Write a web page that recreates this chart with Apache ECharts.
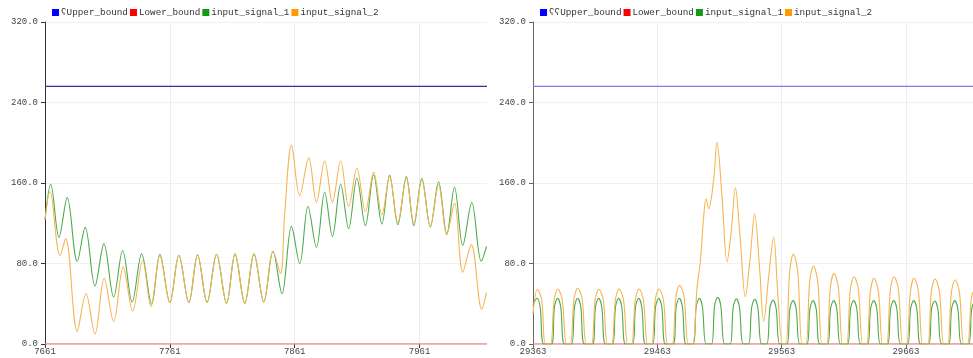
<!DOCTYPE html>
<html>
<head>
<meta charset="utf-8">
<script src="https://cdn.jsdelivr.net/npm/echarts@6/dist/echarts.min.js"></script>
<style>
html, body { margin: 0; padding: 0; background: #fff; }
#wrap { width: 973px; height: 358px; display: flex; }
#chart_left { width: 487px; height: 358px; }
#chart_right { width: 486px; height: 358px; }
</style>
</head>
<body>
<div id="wrap">
  <div id="chart_left"></div>
  <div id="chart_right"></div>
</div>
<script>
// axis settings
const yMax = 320
const yStep = 80
const xStep = 100
const xSpan = 354
const leftStart = 7661
const rightStart = 29363
const upperBound = 256
const lowerBound = 0

const leftNames = ['ʕUpper_bound', 'Lower_bound', 'input_signal_1', 'input_signal_2']
const rightNames = ['ʕʕUpper_bound', 'Lower_bound', 'input_signal_1', 'input_signal_2']

// [sample offset from start, value]
const leftSignal1 = [
  [0, 123.5], [4.6, 158.8], [11.2, 106], [17.8, 145.5], [25.8, 82.3], [32.2, 115.9],
  [40, 57.6], [47.2, 99.5], [55, 46.7], [62.2, 92.9], [69.8, 41.8], [77.4, 89.6],
  [85.4, 39.5], [92, 89.2], [100, 41.2], [107.2, 88.2], [115.2, 41.2], [122.2, 88.6],
  [129.8, 41.2], [137.4, 89.2], [145.4, 40.5], [152.2, 89.6], [160, 40.5], [167.4, 89.6],
  [175.2, 41.8], [182.6, 92.2], [189.8, 50], [197.4, 116.9], [204, 80], [210.6, 136.6],
  [217.4, 96.1], [224, 150.8], [230.2, 107], [236.8, 158.8], [243.2, 114.6], [249.8, 164.7],
  [256.6, 117.6], [263.2, 168], [269.8, 119.2], [276, 168], [282.6, 118.6], [289.4, 166.3],
  [295.4, 117.6], [301.8, 164.7], [308.6, 116.3], [315.2, 161.3], [321.8, 109.4], [328, 155.8],
  [334.6, 98.1], [341.8, 140.6], [349.4, 82.3], [353.6, 97]
]
const leftSignal2 = [
  [0, 123.5], [4, 151.5], [12, 88], [16.6, 104.7], [25.8, 12.5], [32.8, 50],
  [40, 9.9], [47.4, 65.2], [55, 22.4], [62.6, 76.4], [70.2, 32.9], [78.2, 83],
  [84.8, 37.2], [92, 87.6], [100, 41.2], [107.2, 88.2], [115.2, 41.2], [122.2, 88.6],
  [129.8, 41.2], [137.4, 89.2], [145.4, 40.5], [152.2, 89.6], [160, 40.5], [167.4, 89.6],
  [175.2, 41.8], [182.6, 92.2], [188.6, 70.1], [192, 130], [197.4, 197.6], [204, 147.5],
  [211.2, 185], [217.4, 141], [224, 181.8], [230.2, 141], [236.8, 181.8], [243.2, 136.6],
  [249.8, 174.6], [256.6, 131.7], [263.2, 170.6], [269.8, 128.4], [276, 166.3], [282.6, 120.8],
  [289.4, 164.7], [295.4, 120], [301.8, 163], [308.6, 117], [315.2, 158], [321.8, 108.7],
  [328, 140], [334.6, 71.4], [341.4, 98.8], [349.8, 34.6], [353.6, 51]
]

const rightSignal1 = [
  [0, 38], [3.2, 45.5], [5.7, 37], [8.7, 0],
  [14.8, 0], [17.3, 37], [19.8, 45.5], [22.3, 37], [25.3, 0],
  [30.9, 0], [33.4, 37], [35.9, 45.5], [38.4, 37], [41.4, 0],
  [47.8, 0], [50.3, 37], [52.8, 45.5], [55.3, 37], [58.3, 0],
  [63.9, 0], [66.4, 37], [68.9, 45.5], [71.4, 37], [74.4, 0],
  [80, 0], [82.5, 37], [85, 45.5], [87.5, 37], [90.5, 0],
  [96.1, 0], [98.6, 37], [101.1, 45.5], [103.6, 37], [106.6, 0],
  [112.7, 0], [115.2, 37], [117.7, 45.5], [120.2, 37], [123.2, 0],
  [128.8, 0], [131.3, 37], [133.8, 45.5], [136.3, 37], [139.3, 0],
  [143.6, 0], [146.1, 38], [148.6, 46.5], [151.1, 38], [154.1, 0],
  [158.6, 0], [161.1, 36.5], [163.6, 45], [166.1, 36.5], [169.1, 0],
  [173.4, 0], [175.9, 36], [178.4, 44.5], [180.9, 36], [183.9, 0],
  [188.1, 0], [190.6, 35.5], [193.1, 43.8], [195.6, 35.5], [198.6, 0],
  [204.2, 0], [206.7, 35], [209.2, 43.1], [211.7, 35], [214.7, 0],
  [220.3, 0], [222.8, 35], [225.3, 43.1], [227.8, 35], [230.8, 0],
  [236.9, 0], [239.4, 35], [241.9, 43.1], [244.4, 35], [247.4, 0],
  [253, 0], [255.5, 35], [258, 43.1], [260.5, 35], [263.5, 0],
  [269.1, 0], [271.6, 35], [274.1, 43.1], [276.6, 35], [279.6, 0],
  [285.2, 0], [287.7, 35], [290.2, 43.1], [292.7, 35], [295.7, 0],
  [301.3, 0], [303.8, 35], [306.3, 43.1], [308.8, 35], [311.8, 0],
  [318.2, 0], [320.7, 35], [323.2, 42.8], [325.7, 35], [328.7, 0],
  [334.3, 0], [336.8, 35], [339.3, 43.1], [341.8, 35], [344.8, 0],
  [350.3, 0], [352.8, 33], [354, 40]
]
const rightSignal2 = [
  [0, 30], [3.5, 54.4], [7, 44], [10, 0],
  [14, 0], [17, 44], [20, 54.4], [23.5, 44], [27, 0],
  [30, 0], [33, 45], [36, 55.4], [39.5, 45], [43, 0],
  [47, 0], [50, 44], [53, 54.4], [56.5, 44], [60, 0],
  [63.3, 0], [66.3, 44], [69.3, 54.7], [72.8, 44], [76.3, 0],
  [79.3, 0], [82.3, 44], [85.3, 54.7], [88.8, 44], [92.3, 0],
  [95.4, 0], [98.4, 44], [101.4, 54.7], [104.9, 44], [108.4, 0],
  [112, 0], [115, 47], [118, 58], [121.5, 47], [125, 0],
  [128.5, 0], [131.9, 55], [134.6, 81.7], [137.3, 126.2], [139.2, 144.4], [141.3, 134.5],
  [145.3, 162.5], [148, 200.4], [152.1, 146], [156.1, 81.7], [159.6, 113], [162.8, 155.2],
  [166.8, 103.1], [170.8, 47.1], [174.8, 86.7], [178.3, 129.5], [182.4, 73.5], [185.6, 22.4],
  [189.6, 66.9], [193.6, 106.4], [197.1, 47.1], [200.9, 0],
  [203.5, 0], [206.5, 72], [209.5, 89.3], [213, 72], [216.5, 0],
  [219.6, 0], [222.6, 62], [225.6, 77.4], [229.1, 62], [232.6, 0],
  [236.2, 0], [239.2, 56], [242.2, 70.2], [245.7, 56], [249.2, 0],
  [252.3, 0], [255.3, 54], [258.3, 66.9], [261.8, 54], [265.3, 0],
  [268.4, 0], [271.4, 52], [274.4, 65.3], [277.9, 52], [281.4, 0],
  [284.5, 0], [287.5, 54], [290.5, 66.9], [294, 54], [297.5, 0],
  [300.6, 0], [303.6, 52], [306.6, 65.3], [310.1, 52], [313.6, 0],
  [317.5, 0], [320.5, 52], [323.5, 64.6], [327, 52], [330.5, 0],
  [333.6, 0], [336.6, 51], [339.6, 63.6], [343.1, 51], [346.6, 0],
  [349.5, 0], [352.5, 44], [354, 52]
]

const monoFont = '"Liberation Mono", "DejaVu Sans Mono", monospace'

function shift(points, start) {
  return points.map(p => [p[0] + start, p[1]])
}

function lineSeries(name, data, legendColor, lineColor, width, smooth) {
  return {
    name: name,
    type: 'line',
    data: data,
    symbol: 'none',
    smooth: smooth,
    itemStyle: { color: legendColor },
    lineStyle: { color: lineColor, width: width },
  }
}

function buildOption(names, start, sig1, sig2, gridLeft, legendLeft, upperColor, axisColor) {
  const end = start + xSpan
  return {
    animation: false,
    legend: {
      left: legendLeft,
      top: 8,
      padding: 0,
      icon: 'rect',
      itemWidth: 7,
      itemHeight: 7,
      itemGap: 2,
      data: names,
      textStyle: { fontFamily: monoFont, fontSize: 9.3, color: '#333', padding: [0, 0, 0, -3] },
    },
    grid: { left: gridLeft, right: 0, top: 22, bottom: 14 },
    xAxis: {
      type: 'value',
      min: start,
      max: end,
      interval: xStep,
      axisLine: { show: false },
      axisTick: { show: true, length: 4, lineStyle: { color: axisColor } },
      axisLabel: {
        fontFamily: monoFont, fontSize: 9, color: '#444', margin: 3,
        showMaxLabel: false,
        formatter: v => String(Math.round(v)),
      },
      splitLine: { show: true, lineStyle: { color: '#ededed' } },
    },
    yAxis: {
      type: 'value',
      min: 0,
      max: yMax,
      interval: yStep,
      axisLine: { show: true, lineStyle: { color: axisColor } },
      axisTick: { show: true, length: 4, lineStyle: { color: axisColor } },
      axisLabel: {
        fontFamily: monoFont, fontSize: 9, color: '#444', margin: 7,
        formatter: v => v.toFixed(1),
      },
      splitLine: { show: true, lineStyle: { color: '#f1f1f1' } },
    },
    series: [
      lineSeries(names[0], [[start, upperBound], [end, upperBound]], '#0000ff', upperColor, 1.2, false),
      lineSeries(names[1], [[start, lowerBound], [end, lowerBound]], '#ff0000', '#f08c8c', 1.6, false),
      lineSeries(names[2], shift(sig1, start), '#129a12', '#4cab4c', 1.1, 0.35),
      lineSeries(names[3], shift(sig2, start), '#ff9a00', '#f6b452', 1.1, 0.35),
    ],
  }
}

let leftChart = echarts.init(document.getElementById('chart_left'))
leftChart.setOption(buildOption(leftNames, leftStart, leftSignal1, leftSignal2, 45, 52, '#32329a', '#333'))

let rightChart = echarts.init(document.getElementById('chart_right'))
rightChart.setOption(buildOption(rightNames, rightStart, rightSignal1, rightSignal2, 46, 53, '#7c7cf0', '#666'))
</script>
</body>
</html>
